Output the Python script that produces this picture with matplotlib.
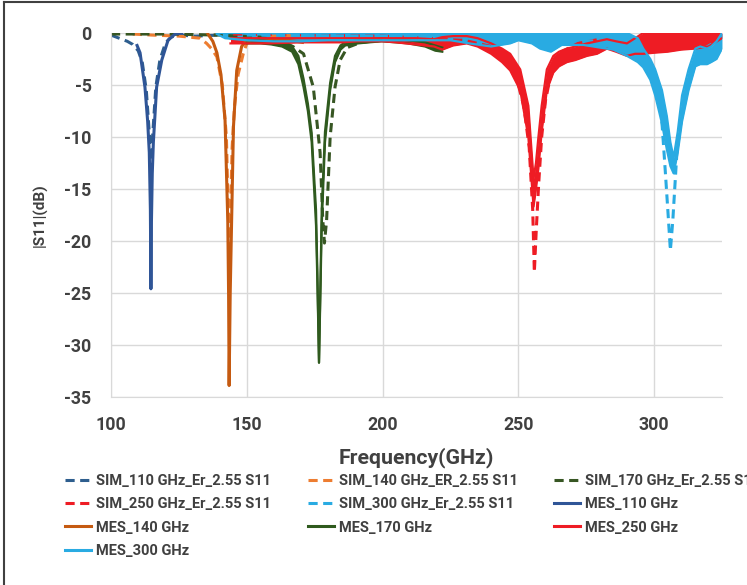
import matplotlib.pyplot as plt
from matplotlib.lines import Line2D

# |S11| (dB), frequencies in GHz

# simulated (dashed)
sim110_f = [100, 103, 106, 108, 110, 111.5, 113, 114.2, 114.7, 115.3, 116.5, 118, 120, 122, 125, 131, 140]
sim110_db = [-0.2, -0.5, -0.8, -1.1, -1.7, -2.8, -5.5, -10, -13.7, -10, -5.2, -2.6, -1.0, -0.4, -0.2, -0.3, -0.2]

sim140_f = [108, 115, 125, 132.8, 135.2, 137, 139, 141, 142.5, 143.6, 144.6, 145.5, 146.8, 148.7, 150, 153.7, 160, 170]
sim140_db = [-0.1, -0.2, -0.3, -0.5, -1.0, -1.5, -2.3, -5, -10, -22, -11, -7, -4, -2, -1.0, -0.5, -0.3, -0.2]

sim170_f = [100, 120, 140, 155, 163, 167, 170.9, 174.5, 177, 178, 178.6, 179.4, 180.7, 182.5, 184.4, 187, 192, 200]
sim170_db = [-0.1, -0.1, -0.2, -0.4, -0.8, -1.3, -2.0, -5.2, -11.5, -18, -20.2, -18, -10, -5.2, -2.6, -1.4, -0.9, -0.7]

sim250_f = [145, 200, 230, 240, 245, 249, 252, 254, 255.3, 255.9, 256.6, 257.5, 258.6, 260, 261.8, 263.5, 266, 272, 280]
sim250_db = [-0.1, -0.3, -0.7, -1.3, -2.3, -4, -7, -11, -17, -23, -19, -14.5, -10, -6.5, -4.2, -2.8, -1.8, -1.0, -0.6]

sim300_f = [150, 250, 280, 290, 296, 300, 302, 303, 304.1, 305.3, 306, 306.9, 308.4, 310.3, 312.1, 314, 317, 321, 325]
sim300_db = [-0.2, -0.4, -0.8, -1.3, -2.2, -3.5, -6.5, -9, -13.2, -18, -20.9, -18, -11.5, -7.7, -4.5, -2.8, -1.7, -1.1, -0.8]

# measured (solid)
mes110_f = [109.6, 110.7, 112.5, 113.5, 114.1, 114.5, 114.7, 114.9, 115.2, 115.6, 116.8, 118.7, 121, 123.6, 126]
mes110_db = [-1.2, -1.9, -5.2, -8.5, -11.5, -17, -24.6, -18, -13.5, -10.5, -5.2, -2.6, -0.7, -0.1, 0.0]

mes140_f = [135.7, 137.5, 139, 140.5, 142, 143, 143.3, 143.5, 143.9, 144.5, 145.1, 146.3, 148.1, 150, 155, 160, 165, 168, 170.5]
mes140_db = [-0.1, -0.8, -1.9, -4.0, -8.4, -18, -25, -33.9, -25, -17, -9, -3.6, -1.3, -0.7, -0.6, -0.6, -0.7, -0.8, -0.9]

# noisy measurements: lower / upper edge of the band
mes170_f = [150, 155, 159, 163, 166.7, 169, 170.9, 172.5, 173.9, 175.5, 176.0, 176.6, 177.2, 177.6, 178.8,
            180.7, 182.5, 184.5, 186.2, 191, 195, 199.7, 205, 209.5, 215.7, 219.4, 222]
mes170_lo = [-1.0, -1.0, -1.1, -1.3, -1.8, -3.0, -5.2, -7.5, -10.5, -18.5, -24, -31.7, -24, -18.5, -10.5,
             -5.5, -2.8, -1.6, -1.2, -1.0, -0.9, -0.8, -0.9, -1.0, -1.3, -1.7, -1.8]
mes170_hi = [-0.7, -0.7, -0.8, -0.9, -1.3, -2.2, -4.4, -6.8, -9.6, -17, -23, -31.7, -23, -17, -9.5,
             -4.8, -2.2, -1.2, -0.9, -0.7, -0.6, -0.5, -0.6, -0.7, -0.9, -1.2, -1.4]

mes250_f = [144, 150, 158, 170, 185, 191, 200, 205, 212, 219, 222, 226, 231, 235, 240, 244, 247, 250.7, 253.7,
            255.6, 256.5, 257.4, 258.6, 260.5, 262.9, 265, 267.9, 271, 275.3, 279, 282.6, 286, 290, 293,
            296, 300, 305, 310, 315, 320, 325]
mes250_lo = [-1.0, -1.0, -1.0, -0.9, -0.9, -0.8, -0.8, -0.9, -1.1, -1.3, -1.6, -1.2, -1.0, -1.3, -2.0, -2.8, -3.6,
             -5.5, -10, -16.7, -15, -13, -9.5, -5.5, -3.8, -3.2, -2.8, -2.6, -2.2, -2.0, -1.5, -1.8, -2.2, -2.0,
             -2.0, -1.9, -1.8, -1.6, -1.5, -1.3, -0.5]
mes250_hi = [-0.5, -0.5, -0.5, -0.5, -0.5, -0.5, -0.5, -0.5, -0.5, -0.6, -0.4, -0.3, -0.3, -0.5, -1.0, -1.5, -2.0,
             -3.5, -7, -14, -12.5, -10, -7, -3.5, -2.2, -1.8, -1.5, -1.3, -1.0, -0.8, -0.6, -0.8, -1.0, -0.5,
             0, 0, 0, 0, 0, 0, 0]

mes300_f = [139, 142, 150, 160, 170, 180, 190, 200, 210, 220, 225, 232, 240, 247, 250, 255, 258, 262, 266, 274,
            280, 285, 290, 294, 296, 298.6, 300.4, 302.9, 304.7, 306, 307.2, 308.7, 310.3, 312.7, 315.2, 317,
            319.5, 321, 323, 325]
mes300_lo = [-0.1, -0.5, -0.7, -0.8, -0.8, -0.7, -0.7, -0.7, -0.7, -0.7, -0.7, -1.0, -1.3, -1.0, -0.7, -1.0, -1.5,
             -1.8, -1.15, -1.15, -1.4, -1.6, -2.2, -2.8, -3.3, -4.5, -6.0, -8.7, -11.2, -12.8, -13.5, -11.5, -8.5,
             -5.5, -3.2, -3.0, -3.0, -2.8, -2.5, -1.5]
mes300_hi = [0, 0, 0, 0, 0, 0, 0, 0, 0, 0, 0, 0, 0, 0, 0, 0, 0, 0, 0, 0,
             0, 0, 0, -0.5, -1.5, -2.5, -3.5, -5.5, -8.0, -10.5, -12.0, -9.5, -6.0, -3.5, -1.5, -1.3,
             -1.5, -1.3, -0.8, 0]

labels = ["SIM_110 GHz_Er_2.55 S11", "SIM_140 GHz_ER_2.55 S11", "SIM_170 GHz_Er_2.55 S11",
          "SIM_250 GHz_Er_2.55 S11", "SIM_300 GHz_Er_2.55 S11", "MES_110 GHz",
          "MES_140 GHz", "MES_170 GHz", "MES_250 GHz", "MES_300 GHz"]
colors = ["#2E5E8E", "#ED7D31", "#375623", "#EE1C24", "#29ABE2",
          "#2F5597", "#C55A11", "#2F5A1E", "#EE1C24", "#29ABE2"]

# narrowest installed face
plt.rcParams['font.family'] = ['Roboto', 'DejaVu Sans']
plt.rcParams['font.weight'] = 'bold'
plt.rcParams['axes.unicode_minus'] = False

fig = plt.figure(figsize=(7.47, 5.85), dpi=100)
ax = fig.add_axes([0.1486, 0.3214, 0.8179, 0.6222])

LW = 2.2
DASH = (3.0, 1.8)

sims = [(sim110_f, sim110_db), (sim140_f, sim140_db), (sim170_f, sim170_db),
        (sim250_f, sim250_db), (sim300_f, sim300_db)]
for (f, db), c in zip(sims, colors[:5]):
    ax.plot(f, db, color=c, lw=LW, dashes=DASH)

ax.plot(mes110_f, mes110_db, color=colors[5], lw=LW)
ax.plot(mes140_f, mes140_db, color=colors[6], lw=LW)

bands = [(mes170_f, mes170_lo, mes170_hi), (mes250_f, mes250_lo, mes250_hi),
         (mes300_f, mes300_lo, mes300_hi)]
for (f, lo, hi), c in zip(bands, colors[7:]):
    ax.fill_between(f, lo, hi, color=c, lw=0)
    ax.plot(f, lo, color=c, lw=1.6)
    ax.plot(f, hi, color=c, lw=1.6)

ax.set_xlim(100, 325)
ax.set_ylim(-35, 0)
ax.set_xticks([100, 150, 200, 250, 300])
ax.set_yticks([0, -5, -10, -15, -20, -25, -30, -35])
ax.grid(True, color="#D9D9D9", lw=1)
ax.set_axisbelow(True)
ax.tick_params(length=0, labelsize=12.75, labelcolor="#404040", pad=14)
for s in ["top", "right"]:
    ax.spines[s].set_visible(False)
for s in ["left", "bottom"]:
    ax.spines[s].set_color("#D9D9D9")

ax.set_xlabel("Frequency(GHz)", fontsize=15.3, fontweight="bold", color="#404040", labelpad=9)
ax.set_ylabel("|S11|(dB)", fontsize=11, fontweight="bold", color="#404040", labelpad=12)

# legend, filled row by row in three fixed columns
handles = []
for i, c in enumerate(colors):
    if i < 5:
        handles.append(Line2D([], [], color=c, lw=LW, dashes=DASH))
    else:
        handles.append(Line2D([], [], color=c, lw=LW))

col_x = [0.087, 0.4117, 0.741]
for k in range(3):
    idx = list(range(k, len(labels), 3))
    fig.legend([handles[i] for i in idx], [labels[i] for i in idx],
               loc="upper left", bbox_to_anchor=(col_x[k], 0.190), frameon=False,
               borderpad=0, borderaxespad=0, handlelength=1.8, handletextpad=0.35,
               labelspacing=0.64, fontsize=10.5, labelcolor="#404040")

# outer chart frame
fig.add_artist(Line2D([0.006, 0.006], [0, 0.997], color="#404040", lw=1.5))
fig.add_artist(Line2D([0.006, 1.0], [0.997, 0.997], color="#404040", lw=1.5))

fig.savefig("out.png", dpi=100)
